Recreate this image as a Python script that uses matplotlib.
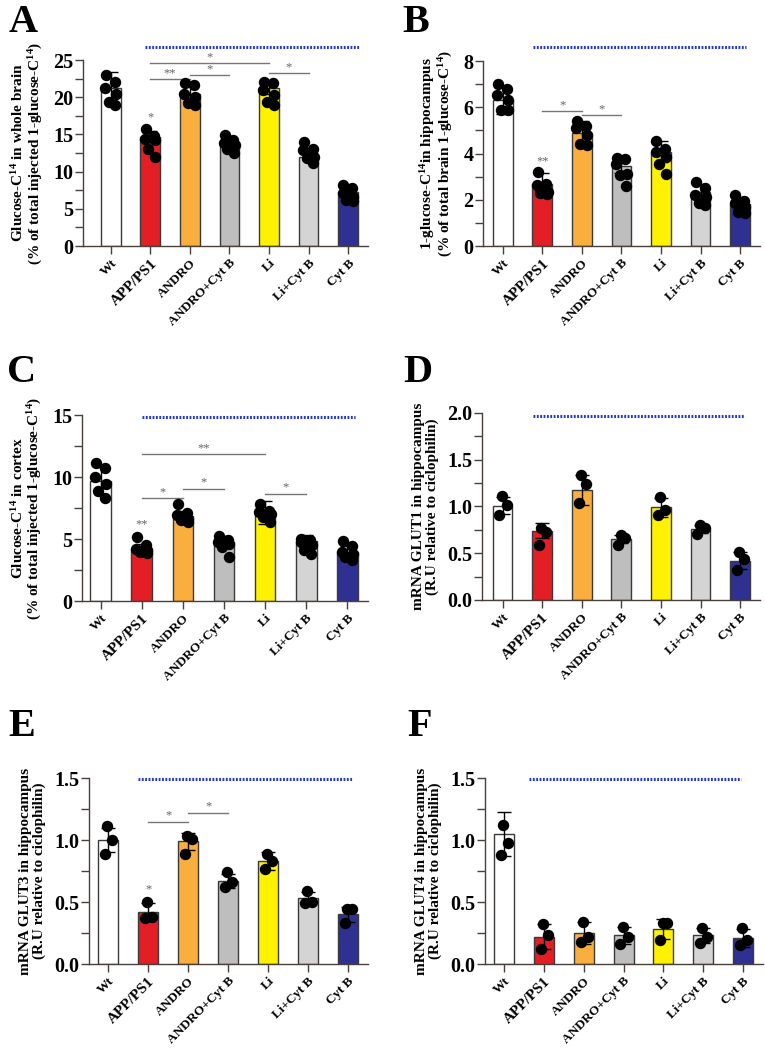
import matplotlib
matplotlib.use("Agg")
import matplotlib.pyplot as plt
import numpy as np

plt.rcParams["font.family"] = ["Liberation Serif", "DejaVu Serif"]
plt.rcParams["mathtext.fontset"] = "custom"
plt.rcParams["mathtext.rm"] = "Liberation Serif:bold"
plt.rcParams["mathtext.it"] = "Liberation Serif:bold"
plt.rcParams["mathtext.bf"] = "Liberation Serif:bold"

groups = ["Wt", "APP/PS1", "ANDRO", "ANDRO+Cyt B", "Li", "Li+Cyt B", "Cyt B"]
bar_colors = ["#FFFFFF", "#E31E24", "#F9AE3D", "#BEBEBE", "#FFF200", "#D4D4D4", "#2E3192"]

# panel A - whole brain
a_mean = [21.3, 14.7, 20.4, 14.0, 21.3, 12.0, 7.3]
a_sd = [2.1, 0.7, 1.1, 0.7, 0.8, 0.5, 0.6]
a_pts = [[23.0, 22.0, 21.2, 20.4, 19.3, 19.0],
         [15.7, 14.8, 14.4, 14.2, 13.1, 12.0],
         [21.9, 21.6, 20.5, 20.1, 19.2, 18.9],
         [14.9, 14.2, 13.8, 13.6, 13.1, 12.5],
         [22.1, 21.9, 21.0, 20.3, 19.4, 18.9],
         [14.0, 13.1, 12.9, 12.0, 11.9, 11.1],
         [8.2, 7.75, 7.1, 6.6, 6.2, 6.0]]

# panel B - hippocampus
b_mean = [6.3, 2.7, 4.9, 3.45, 4.07, 2.33, 1.8]
b_sd = [0.6, 0.45, 0.5, 0.3, 0.45, 0.35, 0.3]
b_pts = [[7.0, 6.8, 6.55, 6.3, 5.9, 5.87],
         [3.2, 2.7, 2.63, 2.35, 2.3, 2.27],
         [5.4, 5.2, 5.1, 4.8, 4.43, 4.35],
         [3.8, 3.75, 3.55, 3.1, 3.05, 2.6],
         [4.55, 4.2, 4.07, 3.85, 3.55, 3.1],
         [2.78, 2.5, 2.2, 2.13, 1.85, 1.78],
         [2.2, 1.96, 1.87, 1.7, 1.48, 1.41]]

# panel C - cortex
c_mean = [9.7, 4.2, 6.85, 4.75, 7.15, 4.85, 3.95]
c_sd = [1.1, 0.4, 0.4, 0.5, 0.9, 0.5, 0.45]
c_pts = [[11.15, 10.77, 10.0, 9.4, 8.86, 8.32],
         [5.17, 4.5, 4.2, 4.1, 3.96, 3.88],
         [7.8, 7.1, 6.9, 6.65, 6.5, 6.4],
         [5.25, 4.95, 4.8, 4.63, 4.36, 3.56],
         [7.86, 7.3, 7.19, 7.0, 6.79, 6.38],
         [5.04, 4.9, 4.77, 4.5, 4.1, 3.77],
         [4.82, 4.42, 3.96, 3.77, 3.55, 3.29]]

# panel D - GLUT1
d_mean = [1.01, 0.74, 1.18, 0.65, 0.99, 0.76, 0.42]
d_sd = [0.09, 0.08, 0.16, 0.04, 0.1, 0.04, 0.09]
d_pts = [[1.11, 1.02, 0.91], [0.77, 0.73, 0.59], [1.34, 1.24, 1.04],
         [0.70, 0.66, 0.59], [1.10, 0.96, 0.91], [0.80, 0.77, 0.71],
         [0.51, 0.44, 0.32]]

# panel E - GLUT3
e_mean = [1.0, 0.42, 0.99, 0.67, 0.83, 0.53, 0.40]
e_sd = [0.1, 0.07, 0.07, 0.06, 0.07, 0.05, 0.06]
e_pts = [[1.11, 1.0, 0.89], [0.50, 0.38, 0.37], [1.03, 1.01, 0.89],
         [0.745, 0.66, 0.62], [0.89, 0.83, 0.77], [0.59, 0.50, 0.49],
         [0.44, 0.44, 0.33]]

# panel F - GLUT4
f_mean = [1.05, 0.22, 0.25, 0.23, 0.28, 0.23, 0.21]
f_sd = [0.18, 0.1, 0.09, 0.07, 0.08, 0.06, 0.07]
f_pts = [[1.125, 0.98, 0.88], [0.325, 0.23, 0.12], [0.34, 0.22, 0.18],
         [0.30, 0.22, 0.16], [0.33, 0.33, 0.195], [0.29, 0.22, 0.17],
         [0.29, 0.195, 0.155]]

# significance brackets: (from, to, y, label)
a_sig = [(1, 4, 24.6, "*"), (1, 2, 22.4, "**"), (2, 3, 23.0, "*"), (4, 5, 23.2, "*")]
b_sig = [(1, 2, 5.84, "*"), (2, 3, 5.65, "*")]
c_sig = [(1, 4, 11.85, "**"), (1, 2, 8.3, "*"), (2, 3, 9.07, "*"), (4, 5, 8.67, "*")]
e_sig = [(1, 2, 1.147, "*"), (2, 3, 1.22, "*")]

# star directly above APP/PS1 bar
a_app_star, b_app_star, c_app_star, e_app_star = 16.5, 3.4, 5.7, 0.55

ylabels = {
    "A": "Glucose-C$^{14}$ in whole brain\n(% of total injected 1-glucose-C$^{14}$)",
    "B": "1-glucose-C$^{14}$in hippocampus\n(% of total brain 1-glucose-C$^{14}$)",
    "C": "Glucose-C$^{14}$ in cortex\n(% of total injected 1-glucose-C$^{14}$)",
    "D": "mRNA GLUT1 in hippocampus\n(R.U relative to ciclophilin)",
    "E": "mRNA GLUT3 in hippocampus\n(R.U relative to ciclophilin)",
    "F": "mRNA GLUT4 in hippocampus\n(R.U relative to ciclophilin)",
}

panels = [
    # letter, rect, means, sds, points, ymax, major, minor, fmt, sig, app star, blue line (x0,x1,y), xleft
    ("A", [0.1085, 0.7657, 0.3725, 0.1771], a_mean, a_sd, a_pts, 25, 5, 2.5, "%d", a_sig, a_app_star, (0.86, 6.28, 26.7), -0.7),
    ("B", [0.6314, 0.7657, 0.3620, 0.1762], b_mean, b_sd, b_pts, 8, 2, 1, "%d", b_sig, b_app_star, (0.76, 6.15, 8.6), -0.5),
    ("C", [0.1072, 0.4276, 0.3739, 0.1771], c_mean, c_sd, c_pts, 15, 5, 2.5, "%d", c_sig, c_app_star, (1.0, 6.19, 14.84), -0.45),
    ("D", [0.6300, 0.4286, 0.3634, 0.1781], d_mean, d_sd, d_pts, 2.0, 0.5, 0.25, "%.1f", [], None, (0.76, 6.1, 1.97), -0.52),
    ("E", [0.1163, 0.0819, 0.3647, 0.1771], e_mean, e_sd, e_pts, 1.5, 0.5, 0.25, "%.1f", e_sig, e_app_star, (0.75, 6.1, 1.49), -0.48),
    ("F", [0.6340, 0.0819, 0.3634, 0.1771], f_mean, f_sd, f_pts, 1.5, 0.5, 0.25, "%.1f", [], None, (0.62, 5.95, 1.49), -0.48),
]

letter_pos = {"A": (23, 22), "B": (416, 22), "C": (22, 373), "D": (418, 373), "E": (22, 727), "F": (420, 727)}

W, H = 765, 1050
fig = plt.figure(figsize=(W / 100, H / 100), dpi=100)
spine_col = "#4a3f3a"
x = np.arange(len(groups))

for letter, rect, mean, sd, pts, ymax, major, minor, fmt, sig, app_star, blue, xleft in panels:
    ax = fig.add_axes(rect)
    ax.bar(x, mean, width=0.5, color=bar_colors, edgecolor="#3a3a3a", linewidth=1.0, zorder=2)
    ax.errorbar(x, mean, yerr=sd, fmt="none", ecolor="black", elinewidth=1.0,
                capsize=5, capthick=1.0, zorder=3)
    for i, vals in enumerate(pts):
        n = len(vals)
        if n == 6:
            offs = np.array([-0.12, 0.1, -0.14, 0.13, -0.05, 0.12])
        else:
            offs = np.array([-0.02, 0.1, -0.08])
        ax.scatter(i + offs, vals, s=52, color="black", zorder=4, clip_on=False)
    for x0, x1, y, lab in sig:
        ax.plot([x0, x1], [y, y], color="#777777", lw=1.0, zorder=1)
        ax.text((x0 + x1) / 2, y, lab, ha="center", va="bottom", color="#666666", fontsize=9)
    if app_star is not None:
        ax.text(1, app_star, "**" if letter in ("B", "C") else "*", ha="center", va="bottom",
                color="#666666", fontsize=9)
    bx0, bx1, by = blue
    ax.plot([bx0, bx1], [by, by], color="#2438c8", lw=2.2, linestyle=(0, (0.6, 0.5)),
            clip_on=False, zorder=5)

    ax.set_xlim(xleft, 6.5)
    ax.set_ylim(0, ymax)
    ax.set_yticks(np.arange(0, ymax + 1e-9, major))
    ax.set_yticks(np.arange(0, ymax + 1e-9, minor), minor=True)
    ax.yaxis.set_major_formatter(matplotlib.ticker.FormatStrFormatter(fmt))
    ax.set_xticks(x)
    ax.set_xticklabels(groups, rotation=45, ha="right", rotation_mode="anchor")
    for t in ax.get_xticklabels():
        t.set_fontweight("bold")
        t.set_fontsize(11 if t.get_text() == "APP/PS1" else 9.5)
    for t in ax.get_yticklabels():
        t.set_fontweight("bold")
        t.set_fontsize(14.5)
    for s in ("top", "right"):
        ax.spines[s].set_visible(False)
    for s in ("left", "bottom"):
        ax.spines[s].set_color(spine_col)
        ax.spines[s].set_linewidth(1.0)
    ax.tick_params(axis="both", which="major", length=6, color=spine_col, width=1.0)
    ax.tick_params(axis="y", which="minor", length=6, color=spine_col, width=1.0)
    ax.tick_params(axis="y", pad=1)
    ax.tick_params(axis="x", pad=2)
    ax.set_ylabel(ylabels[letter], fontsize=11, fontweight="bold", labelpad=6, linespacing=1.0)

    lx, ly = letter_pos[letter]
    fig.text(lx / W, 1 - ly / H, letter, fontsize=29, fontweight="bold", ha="center", va="center")

fig.savefig("out.png", dpi=100)
